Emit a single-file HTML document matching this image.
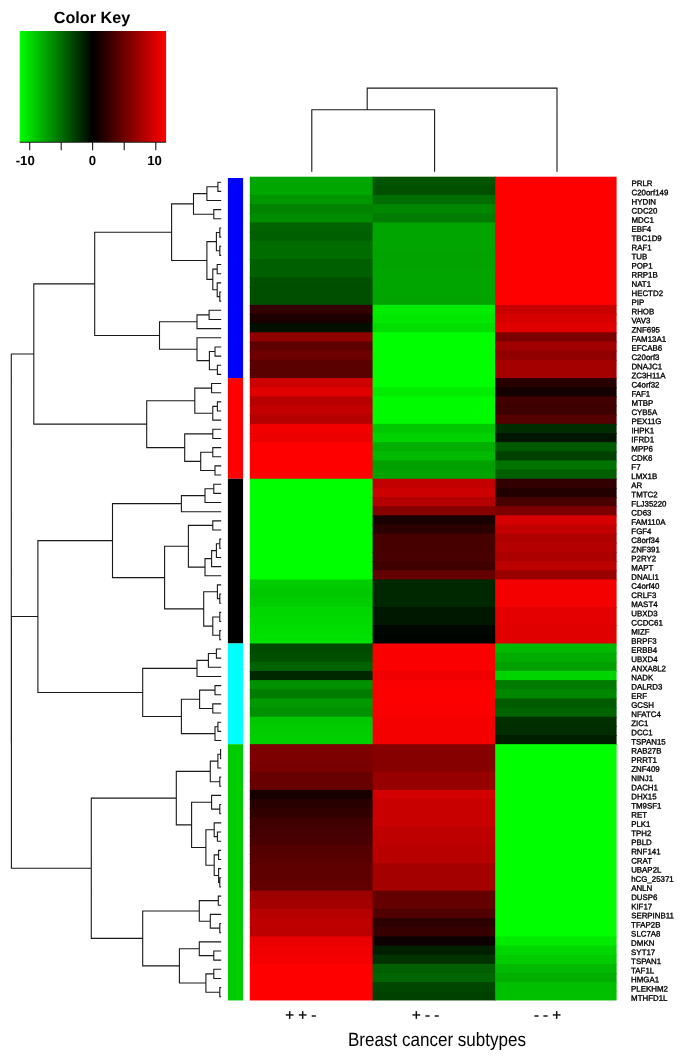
<!DOCTYPE html>
<html lang="en"><head><meta charset="utf-8"><title>Heatmap - Breast cancer subtypes</title>
<style>html,body{margin:0;padding:0;background:#fff}body{width:685px;height:1059px;overflow:hidden}svg{display:block}text{font-family:"Liberation Sans",Arial,sans-serif;fill:#000;text-rendering:geometricPrecision}.g{font-size:7.9px;stroke:#000;stroke-width:0.33px}.k{font-size:13.2px;font-weight:bold}.c{font-size:15px;stroke:#000;stroke-width:0.3px}</style></head><body>
<svg width="685" height="1059" viewBox="0 0 685 1059">
<defs><linearGradient id="ck" x1="0" x2="1" y1="0" y2="0"><stop offset="0" stop-color="#00ff00"/><stop offset="0.5" stop-color="#000000"/><stop offset="1" stop-color="#ff0000"/></linearGradient></defs>
<rect width="685" height="1059" fill="#fff"/>
<text x="92" y="22.6" text-anchor="middle" style="font-size:16.2px;font-weight:bold">Color Key</text>
<rect x="19.7" y="31" width="146.4" height="111" fill="url(#ck)"/>
<path d="M19.7 142.3H166.1M29.7 142V150.3M61.2 142V150.3M92.6 142V150.3M124.2 142V150.3M155.8 142V150.3" stroke="#1a1a1a" stroke-width="1.1" fill="none"/>
<text class="k" x="25.2" y="164.5" text-anchor="middle">-10</text>
<text class="k" x="92.5" y="164.5" text-anchor="middle">0</text>
<text class="k" x="154.5" y="164.5" text-anchor="middle">10</text>
<path d="M311.8 171.7V109.7H434.6V171.7M367.2 109.7V88.1H557V171.7" stroke="#1a1a1a" stroke-width="1.1" fill="none"/>
<g>
<rect x="249.8" y="176.70" width="123.8" height="19.31" fill="#00a600"/>
<rect x="249.8" y="195.01" width="123.8" height="10.15" fill="#009600"/>
<rect x="249.8" y="204.16" width="123.8" height="10.15" fill="#008400"/>
<rect x="249.8" y="213.31" width="123.8" height="10.15" fill="#008c00"/>
<rect x="249.8" y="222.46" width="123.8" height="10.15" fill="#006200"/>
<rect x="249.8" y="231.62" width="123.8" height="10.15" fill="#005f00"/>
<rect x="249.8" y="240.77" width="123.8" height="19.31" fill="#006c00"/>
<rect x="249.8" y="259.07" width="123.8" height="19.31" fill="#005f00"/>
<rect x="249.8" y="277.38" width="123.8" height="10.15" fill="#005000"/>
<rect x="249.8" y="286.53" width="123.8" height="19.31" fill="#004e00"/>
<rect x="249.8" y="304.84" width="123.8" height="10.15" fill="#320000"/>
<rect x="249.8" y="313.99" width="123.8" height="10.15" fill="#1c0000"/>
<rect x="249.8" y="323.14" width="123.8" height="10.15" fill="#000f00"/>
<rect x="249.8" y="332.30" width="123.8" height="10.15" fill="#910000"/>
<rect x="249.8" y="341.45" width="123.8" height="10.15" fill="#5f0000"/>
<rect x="249.8" y="350.60" width="123.8" height="10.15" fill="#6e0000"/>
<rect x="249.8" y="359.76" width="123.8" height="10.15" fill="#5a0000"/>
<rect x="249.8" y="368.91" width="123.8" height="10.15" fill="#580000"/>
<rect x="249.8" y="378.06" width="123.8" height="10.15" fill="#cd0000"/>
<rect x="249.8" y="387.21" width="123.8" height="10.15" fill="#e10000"/>
<rect x="249.8" y="396.37" width="123.8" height="10.15" fill="#b90000"/>
<rect x="249.8" y="405.52" width="123.8" height="10.15" fill="#c30000"/>
<rect x="249.8" y="414.67" width="123.8" height="10.15" fill="#b40000"/>
<rect x="249.8" y="423.83" width="123.8" height="10.15" fill="#f20000"/>
<rect x="249.8" y="432.98" width="123.8" height="10.15" fill="#ec0000"/>
<rect x="249.8" y="442.13" width="123.8" height="37.61" fill="#ff0000"/>
<rect x="249.8" y="478.74" width="123.8" height="101.68" fill="#00ff00"/>
<rect x="249.8" y="579.42" width="123.8" height="10.15" fill="#00cd00"/>
<rect x="249.8" y="588.58" width="123.8" height="10.15" fill="#00c800"/>
<rect x="249.8" y="597.73" width="123.8" height="10.15" fill="#00cd00"/>
<rect x="249.8" y="606.88" width="123.8" height="10.15" fill="#00d700"/>
<rect x="249.8" y="616.03" width="123.8" height="10.15" fill="#00da00"/>
<rect x="249.8" y="625.19" width="123.8" height="10.15" fill="#00de00"/>
<rect x="249.8" y="634.34" width="123.8" height="10.15" fill="#00e100"/>
<rect x="249.8" y="643.49" width="123.8" height="10.15" fill="#004b00"/>
<rect x="249.8" y="652.64" width="123.8" height="10.15" fill="#005000"/>
<rect x="249.8" y="661.80" width="123.8" height="10.15" fill="#006200"/>
<rect x="249.8" y="670.95" width="123.8" height="10.15" fill="#002800"/>
<rect x="249.8" y="680.10" width="123.8" height="10.15" fill="#009100"/>
<rect x="249.8" y="689.26" width="123.8" height="10.15" fill="#007d00"/>
<rect x="249.8" y="698.41" width="123.8" height="10.15" fill="#009900"/>
<rect x="249.8" y="707.56" width="123.8" height="10.15" fill="#009100"/>
<rect x="249.8" y="716.71" width="123.8" height="10.15" fill="#00c800"/>
<rect x="249.8" y="725.87" width="123.8" height="10.15" fill="#00cd00"/>
<rect x="249.8" y="735.02" width="123.8" height="10.15" fill="#00cf00"/>
<rect x="249.8" y="744.17" width="123.8" height="19.31" fill="#7d0000"/>
<rect x="249.8" y="762.48" width="123.8" height="10.15" fill="#7a0000"/>
<rect x="249.8" y="771.63" width="123.8" height="10.15" fill="#690000"/>
<rect x="249.8" y="780.78" width="123.8" height="10.15" fill="#670000"/>
<rect x="249.8" y="789.94" width="123.8" height="10.15" fill="#190000"/>
<rect x="249.8" y="799.09" width="123.8" height="10.15" fill="#280000"/>
<rect x="249.8" y="808.24" width="123.8" height="10.15" fill="#300000"/>
<rect x="249.8" y="817.39" width="123.8" height="10.15" fill="#3e0000"/>
<rect x="249.8" y="826.55" width="123.8" height="10.15" fill="#440000"/>
<rect x="249.8" y="835.70" width="123.8" height="10.15" fill="#480000"/>
<rect x="249.8" y="844.85" width="123.8" height="10.15" fill="#550000"/>
<rect x="249.8" y="854.01" width="123.8" height="10.15" fill="#580000"/>
<rect x="249.8" y="863.16" width="123.8" height="19.31" fill="#5f0000"/>
<rect x="249.8" y="881.46" width="123.8" height="10.15" fill="#620000"/>
<rect x="249.8" y="890.62" width="123.8" height="10.15" fill="#9e0000"/>
<rect x="249.8" y="899.77" width="123.8" height="10.15" fill="#a50000"/>
<rect x="249.8" y="908.92" width="123.8" height="10.15" fill="#b90000"/>
<rect x="249.8" y="918.08" width="123.8" height="10.15" fill="#be0000"/>
<rect x="249.8" y="927.23" width="123.8" height="10.15" fill="#bc0000"/>
<rect x="249.8" y="936.38" width="123.8" height="10.15" fill="#eb0000"/>
<rect x="249.8" y="945.53" width="123.8" height="10.15" fill="#f00000"/>
<rect x="249.8" y="954.69" width="123.8" height="10.15" fill="#f50000"/>
<rect x="249.8" y="963.84" width="123.8" height="36.61" fill="#ff0000"/>
<rect x="372.6" y="176.70" width="123.6" height="10.15" fill="#005500"/>
<rect x="372.6" y="185.85" width="123.6" height="10.15" fill="#005000"/>
<rect x="372.6" y="195.01" width="123.6" height="10.15" fill="#006e00"/>
<rect x="372.6" y="204.16" width="123.6" height="10.15" fill="#008700"/>
<rect x="372.6" y="213.31" width="123.6" height="10.15" fill="#007d00"/>
<rect x="372.6" y="222.46" width="123.6" height="28.46" fill="#00a500"/>
<rect x="372.6" y="249.92" width="123.6" height="19.31" fill="#00a300"/>
<rect x="372.6" y="268.23" width="123.6" height="28.46" fill="#00a500"/>
<rect x="372.6" y="295.69" width="123.6" height="10.15" fill="#00a300"/>
<rect x="372.6" y="304.84" width="123.6" height="10.15" fill="#00ec00"/>
<rect x="372.6" y="313.99" width="123.6" height="10.15" fill="#00e800"/>
<rect x="372.6" y="323.14" width="123.6" height="10.15" fill="#00de00"/>
<rect x="372.6" y="332.30" width="123.6" height="55.92" fill="#00ff00"/>
<rect x="372.6" y="387.21" width="123.6" height="10.15" fill="#00ed00"/>
<rect x="372.6" y="396.37" width="123.6" height="28.46" fill="#00fa00"/>
<rect x="372.6" y="423.83" width="123.6" height="10.15" fill="#00c800"/>
<rect x="372.6" y="432.98" width="123.6" height="10.15" fill="#00d200"/>
<rect x="372.6" y="442.13" width="123.6" height="10.15" fill="#00af00"/>
<rect x="372.6" y="451.28" width="123.6" height="10.15" fill="#00b900"/>
<rect x="372.6" y="460.44" width="123.6" height="10.15" fill="#00a000"/>
<rect x="372.6" y="469.59" width="123.6" height="10.15" fill="#00a300"/>
<rect x="372.6" y="478.74" width="123.6" height="10.15" fill="#c30000"/>
<rect x="372.6" y="487.89" width="123.6" height="10.15" fill="#cd0000"/>
<rect x="372.6" y="497.05" width="123.6" height="10.15" fill="#b40000"/>
<rect x="372.6" y="506.20" width="123.6" height="10.15" fill="#870000"/>
<rect x="372.6" y="515.35" width="123.6" height="10.15" fill="#190000"/>
<rect x="372.6" y="524.51" width="123.6" height="10.15" fill="#2d0000"/>
<rect x="372.6" y="533.66" width="123.6" height="19.31" fill="#460000"/>
<rect x="372.6" y="551.96" width="123.6" height="10.15" fill="#480000"/>
<rect x="372.6" y="561.12" width="123.6" height="10.15" fill="#410000"/>
<rect x="372.6" y="570.27" width="123.6" height="10.15" fill="#640000"/>
<rect x="372.6" y="579.42" width="123.6" height="28.46" fill="#002800"/>
<rect x="372.6" y="606.88" width="123.6" height="19.31" fill="#001700"/>
<rect x="372.6" y="625.19" width="123.6" height="10.15" fill="#000600"/>
<rect x="372.6" y="634.34" width="123.6" height="10.15" fill="#000400"/>
<rect x="372.6" y="643.49" width="123.6" height="28.46" fill="#fa0000"/>
<rect x="372.6" y="670.95" width="123.6" height="10.15" fill="#f00000"/>
<rect x="372.6" y="680.10" width="123.6" height="10.15" fill="#fa0000"/>
<rect x="372.6" y="689.26" width="123.6" height="19.31" fill="#fc0000"/>
<rect x="372.6" y="707.56" width="123.6" height="10.15" fill="#fa0000"/>
<rect x="372.6" y="716.71" width="123.6" height="28.46" fill="#f50000"/>
<rect x="372.6" y="744.17" width="123.6" height="28.46" fill="#870000"/>
<rect x="372.6" y="771.63" width="123.6" height="19.31" fill="#960000"/>
<rect x="372.6" y="789.94" width="123.6" height="10.15" fill="#d20000"/>
<rect x="372.6" y="799.09" width="123.6" height="28.46" fill="#c80000"/>
<rect x="372.6" y="826.55" width="123.6" height="19.31" fill="#be0000"/>
<rect x="372.6" y="844.85" width="123.6" height="19.31" fill="#b90000"/>
<rect x="372.6" y="863.16" width="123.6" height="28.46" fill="#a50000"/>
<rect x="372.6" y="890.62" width="123.6" height="19.31" fill="#640000"/>
<rect x="372.6" y="908.92" width="123.6" height="10.15" fill="#500000"/>
<rect x="372.6" y="918.08" width="123.6" height="10.15" fill="#2d0000"/>
<rect x="372.6" y="927.23" width="123.6" height="10.15" fill="#370000"/>
<rect x="372.6" y="936.38" width="123.6" height="10.15" fill="#0c0000"/>
<rect x="372.6" y="945.53" width="123.6" height="10.15" fill="#001e00"/>
<rect x="372.6" y="954.69" width="123.6" height="10.15" fill="#003200"/>
<rect x="372.6" y="963.84" width="123.6" height="10.15" fill="#005f00"/>
<rect x="372.6" y="972.99" width="123.6" height="10.15" fill="#006400"/>
<rect x="372.6" y="982.14" width="123.6" height="10.15" fill="#004600"/>
<rect x="372.6" y="991.30" width="123.6" height="9.15" fill="#004100"/>
<rect x="495.2" y="176.70" width="121.4" height="129.14" fill="#ff0000"/>
<rect x="495.2" y="304.84" width="121.4" height="10.15" fill="#c80000"/>
<rect x="495.2" y="313.99" width="121.4" height="10.15" fill="#d70000"/>
<rect x="495.2" y="323.14" width="121.4" height="10.15" fill="#e10000"/>
<rect x="495.2" y="332.30" width="121.4" height="10.15" fill="#7d0000"/>
<rect x="495.2" y="341.45" width="121.4" height="10.15" fill="#a00000"/>
<rect x="495.2" y="350.60" width="121.4" height="10.15" fill="#910000"/>
<rect x="495.2" y="359.76" width="121.4" height="19.31" fill="#a50000"/>
<rect x="495.2" y="378.06" width="121.4" height="10.15" fill="#280000"/>
<rect x="495.2" y="387.21" width="121.4" height="10.15" fill="#140000"/>
<rect x="495.2" y="396.37" width="121.4" height="10.15" fill="#410000"/>
<rect x="495.2" y="405.52" width="121.4" height="10.15" fill="#3c0000"/>
<rect x="495.2" y="414.67" width="121.4" height="10.15" fill="#550000"/>
<rect x="495.2" y="423.83" width="121.4" height="10.15" fill="#002d00"/>
<rect x="495.2" y="432.98" width="121.4" height="10.15" fill="#001600"/>
<rect x="495.2" y="442.13" width="121.4" height="10.15" fill="#005a00"/>
<rect x="495.2" y="451.28" width="121.4" height="10.15" fill="#004100"/>
<rect x="495.2" y="460.44" width="121.4" height="10.15" fill="#007300"/>
<rect x="495.2" y="469.59" width="121.4" height="10.15" fill="#005f00"/>
<rect x="495.2" y="478.74" width="121.4" height="10.15" fill="#320000"/>
<rect x="495.2" y="487.89" width="121.4" height="10.15" fill="#230000"/>
<rect x="495.2" y="497.05" width="121.4" height="10.15" fill="#480000"/>
<rect x="495.2" y="506.20" width="121.4" height="10.15" fill="#7d0000"/>
<rect x="495.2" y="515.35" width="121.4" height="10.15" fill="#d70000"/>
<rect x="495.2" y="524.51" width="121.4" height="10.15" fill="#c30000"/>
<rect x="495.2" y="533.66" width="121.4" height="10.15" fill="#af0000"/>
<rect x="495.2" y="542.81" width="121.4" height="10.15" fill="#b40000"/>
<rect x="495.2" y="551.96" width="121.4" height="10.15" fill="#ac0000"/>
<rect x="495.2" y="561.12" width="121.4" height="10.15" fill="#bc0000"/>
<rect x="495.2" y="570.27" width="121.4" height="10.15" fill="#9b0000"/>
<rect x="495.2" y="579.42" width="121.4" height="28.46" fill="#f50000"/>
<rect x="495.2" y="606.88" width="121.4" height="19.31" fill="#e40000"/>
<rect x="495.2" y="625.19" width="121.4" height="19.31" fill="#e10000"/>
<rect x="495.2" y="643.49" width="121.4" height="10.15" fill="#00b900"/>
<rect x="495.2" y="652.64" width="121.4" height="10.15" fill="#00ac00"/>
<rect x="495.2" y="661.80" width="121.4" height="10.15" fill="#00a000"/>
<rect x="495.2" y="670.95" width="121.4" height="10.15" fill="#00d400"/>
<rect x="495.2" y="680.10" width="121.4" height="10.15" fill="#007a00"/>
<rect x="495.2" y="689.26" width="121.4" height="10.15" fill="#008700"/>
<rect x="495.2" y="698.41" width="121.4" height="10.15" fill="#005a00"/>
<rect x="495.2" y="707.56" width="121.4" height="10.15" fill="#006400"/>
<rect x="495.2" y="716.71" width="121.4" height="10.15" fill="#002f00"/>
<rect x="495.2" y="725.87" width="121.4" height="10.15" fill="#002d00"/>
<rect x="495.2" y="735.02" width="121.4" height="10.15" fill="#001e00"/>
<rect x="495.2" y="744.17" width="121.4" height="193.21" fill="#00ff00"/>
<rect x="495.2" y="936.38" width="121.4" height="10.15" fill="#00eb00"/>
<rect x="495.2" y="945.53" width="121.4" height="10.15" fill="#00d700"/>
<rect x="495.2" y="954.69" width="121.4" height="10.15" fill="#00cd00"/>
<rect x="495.2" y="963.84" width="121.4" height="10.15" fill="#00b900"/>
<rect x="495.2" y="972.99" width="121.4" height="10.15" fill="#00af00"/>
<rect x="495.2" y="982.14" width="121.4" height="10.15" fill="#00be00"/>
<rect x="495.2" y="991.30" width="121.4" height="9.15" fill="#00c000"/>
</g>
<rect x="227.9" y="178.00" width="15.2" height="200.06" fill="#0000ff"/>
<rect x="227.9" y="378.06" width="15.2" height="100.68" fill="#ff0000"/>
<rect x="227.9" y="478.74" width="15.2" height="164.75" fill="#000000"/>
<rect x="227.9" y="643.49" width="15.2" height="100.68" fill="#00ffff"/>
<rect x="227.9" y="744.17" width="15.2" height="256.28" fill="#00cd00"/>
<path d="M221.2 182.18H217.9V191.33H221.2M217.9 186.75H206.9V200.48H221.2M221.2 209.63H213.8V218.79H221.2M206.9 193.62H193.5V214.21H213.8M221.2 227.94H219.8V237.09H221.2M221.2 246.25H219.8V255.40H221.2M219.8 232.52H216.4V250.82H219.8M221.2 264.55H217.2V273.70H221.2M221.2 292.01H219.8V301.16H221.2M221.2 282.86H217.2V296.59H219.8M217.2 269.13H212.8V289.72H217.2M216.4 241.67H206.9V279.42H212.8M193.5 203.91H171.6V260.55H206.9M221.2 310.32H209.1V319.47H221.2M209.1 314.89H197.0V328.62H221.2M221.2 346.93H215.0V356.08H221.2M221.2 365.23H217.4V374.38H221.2M215.0 351.50H209.4V369.81H217.4M221.2 337.77H197.0V360.66H209.4M197.0 321.76H159.5V349.21H197.0M171.6 232.23H94.7V335.49H159.5M221.2 383.54H211.6V392.69H221.2M221.2 401.84H217.4V411.00H221.2M217.4 406.42H212.8V420.15H221.2M211.6 388.11H194.8V413.28H212.8M221.2 429.30H212.8V438.45H221.2M221.2 447.61H212.8V456.76H221.2M221.2 465.91H215.0V475.07H221.2M212.8 452.18H200.7V470.49H215.0M212.8 433.88H184.7V461.34H200.7M194.8 400.70H146.7V447.61H184.7M94.7 283.86H33.8V424.15H146.7M221.2 484.22H213.8V493.37H221.2M213.8 488.79H205.0V502.52H221.2M205.0 495.66H181.4V511.68H221.2M221.2 520.83H212.8V529.98H221.2M221.2 539.13H219.8V548.29H221.2M219.8 543.71H216.4V557.44H221.2M216.4 550.58H211.6V566.59H221.2M211.6 558.58H205.0V575.75H221.2M212.8 525.41H188.4V567.17H205.0M221.2 594.05H219.8V603.20H221.2M221.2 584.90H217.4V598.63H219.8M221.2 612.36H219.8V621.51H221.2M221.2 630.66H219.8V639.82H221.2M219.8 616.93H212.8V635.24H219.8M217.4 591.76H203.7V626.09H212.8M188.4 546.29H164.6V608.92H203.7M181.4 503.67H112.5V577.60H164.6M221.2 648.97H216.4V658.12H221.2M216.4 653.54H208.4V667.27H221.2M208.4 660.41H197.0V676.43H221.2M221.2 685.58H215.0V694.73H221.2M221.2 703.88H212.8V713.04H221.2M215.0 690.16H199.6V708.46H212.8M221.2 722.19H217.9V731.34H221.2M217.9 726.77H215.0V740.50H221.2M199.6 699.31H181.4V733.63H215.0M197.0 668.42H142.7V716.47H181.4M112.5 540.64H37.9V692.44H142.7M221.2 749.65H220.6V758.80H221.2M220.6 754.23H217.9V767.95H221.2M221.2 777.11H219.8V786.26H221.2M217.9 761.09H210.3V781.68H219.8M221.2 804.57H219.8V813.72H221.2M221.2 795.41H211.6V809.14H219.8M221.2 832.02H217.4V841.18H221.2M221.2 822.87H214.2V836.60H217.4M221.2 850.33H218.6V859.48H221.2M221.2 877.79H219.8V886.94H221.2M221.2 868.63H218.6V882.36H219.8M218.6 854.91H214.2V875.50H218.6M214.2 829.74H205.9V865.20H214.2M211.6 802.28H191.6V847.47H205.9M210.3 771.39H176.3V824.87H191.6M221.2 896.09H218.3V905.25H221.2M221.2 923.55H219.8V932.70H221.2M221.2 914.40H210.3V928.13H219.8M218.3 900.67H199.3V921.26H210.3M221.2 951.01H213.8V960.16H221.2M221.2 941.86H199.3V955.59H213.8M221.2 969.32H213.8V978.47H221.2M221.2 987.62H219.8V996.77H221.2M213.8 973.89H205.9V992.20H219.8M199.3 948.72H179.4V983.04H205.9M199.3 910.97H142.7V965.88H179.4M176.3 798.13H91.3V938.42H142.7M37.9 616.54H11.4V868.28H91.3M33.8 354.01H11.3V742.41H11.4" stroke="#1a1a1a" stroke-width="1.1" fill="none"/>
<g class="g" transform="rotate(0.03 631 590)">
<text x="631.3" y="186.08">PRLR</text>
<text x="631.3" y="195.23">C20orf149</text>
<text x="631.3" y="204.38">HYDIN</text>
<text x="631.3" y="213.53">CDC20</text>
<text x="631.3" y="222.69">MDC1</text>
<text x="631.3" y="231.84">EBF4</text>
<text x="631.3" y="240.99">TBC1D9</text>
<text x="631.3" y="250.15">RAF1</text>
<text x="631.3" y="259.30">TUB</text>
<text x="631.3" y="268.45">POP1</text>
<text x="631.3" y="277.60">RRP1B</text>
<text x="631.3" y="286.76">NAT1</text>
<text x="631.3" y="295.91">HECTD2</text>
<text x="631.3" y="305.06">PIP</text>
<text x="631.3" y="314.22">RHOB</text>
<text x="631.3" y="323.37">VAV3</text>
<text x="631.3" y="332.52">ZNF695</text>
<text x="631.3" y="341.67">FAM13A1</text>
<text x="631.3" y="350.83">EFCAB6</text>
<text x="631.3" y="359.98">C20orf3</text>
<text x="631.3" y="369.13">DNAJC1</text>
<text x="631.3" y="378.28">ZC3H11A</text>
<text x="631.3" y="387.44">C4orf32</text>
<text x="631.3" y="396.59">FAF1</text>
<text x="631.3" y="405.74">MTBP</text>
<text x="631.3" y="414.90">CYB5A</text>
<text x="631.3" y="424.05">PEX11G</text>
<text x="631.3" y="433.20">IHPK1</text>
<text x="631.3" y="442.35">IFRD1</text>
<text x="631.3" y="451.51">MPP6</text>
<text x="631.3" y="460.66">CDK6</text>
<text x="631.3" y="469.81">F7</text>
<text x="631.3" y="478.97">LMX1B</text>
<text x="631.3" y="488.12">AR</text>
<text x="631.3" y="497.27">TMTC2</text>
<text x="631.3" y="506.42">FLJ35220</text>
<text x="631.3" y="515.58">CD63</text>
<text x="631.3" y="524.73">FAM110A</text>
<text x="631.3" y="533.88">FGF4</text>
<text x="631.3" y="543.03">C8orf34</text>
<text x="631.3" y="552.19">ZNF391</text>
<text x="631.3" y="561.34">P2RY2</text>
<text x="631.3" y="570.49">MAPT</text>
<text x="631.3" y="579.65">DNALI1</text>
<text x="631.3" y="588.80">C4orf40</text>
<text x="631.3" y="597.95">CRLF3</text>
<text x="631.3" y="607.10">MAST4</text>
<text x="631.3" y="616.26">UBXD3</text>
<text x="631.3" y="625.41">CCDC61</text>
<text x="631.3" y="634.56">MIZF</text>
<text x="631.3" y="643.72">BRPF3</text>
<text x="631.3" y="652.87">ERBB4</text>
<text x="631.3" y="662.02">UBXD4</text>
<text x="631.3" y="671.17">ANXA8L2</text>
<text x="631.3" y="680.33">NADK</text>
<text x="631.3" y="689.48">DALRD3</text>
<text x="631.3" y="698.63">ERF</text>
<text x="631.3" y="707.78">GCSH</text>
<text x="631.3" y="716.94">NFATC4</text>
<text x="631.3" y="726.09">ZIC1</text>
<text x="631.3" y="735.24">DCC1</text>
<text x="631.3" y="744.40">TSPAN15</text>
<text x="631.3" y="753.55">RAB27B</text>
<text x="631.3" y="762.70">PRRT1</text>
<text x="631.3" y="771.85">ZNF409</text>
<text x="631.3" y="781.01">NINJ1</text>
<text x="631.3" y="790.16">DACH1</text>
<text x="631.3" y="799.31">DHX15</text>
<text x="631.3" y="808.47">TM9SF1</text>
<text x="631.3" y="817.62">RET</text>
<text x="631.3" y="826.77">PLK1</text>
<text x="631.3" y="835.92">TPH2</text>
<text x="631.3" y="845.08">PBLD</text>
<text x="631.3" y="854.23">RNF141</text>
<text x="631.3" y="863.38">CRAT</text>
<text x="631.3" y="872.53">UBAP2L</text>
<text x="631.3" y="881.69">hCG_25371</text>
<text x="631.3" y="890.84">ANLN</text>
<text x="631.3" y="899.99">DUSP6</text>
<text x="631.3" y="909.15">KIF17</text>
<text x="631.3" y="918.30">SERPINB11</text>
<text x="631.3" y="927.45">TFAP2B</text>
<text x="631.3" y="936.60">SLC7A8</text>
<text x="631.3" y="945.76">DMKN</text>
<text x="631.3" y="954.91">SYT17</text>
<text x="631.3" y="964.06">TSPAN1</text>
<text x="631.3" y="973.22">TAF1L</text>
<text x="631.3" y="982.37">HMGA1</text>
<text x="631.3" y="991.52">PLEKHM2</text>
<text x="631.3" y="1000.67">MTHFD1L</text>
</g>
<text class="c" x="300.8" y="1020.2" text-anchor="middle" xml:space="preserve">+ + -</text>
<text class="c" x="425.6" y="1020.2" text-anchor="middle" xml:space="preserve">+ - -</text>
<text class="c" x="547.5" y="1020.2" text-anchor="middle" xml:space="preserve">- - +</text>
<text x="347.9" y="1045.7" textLength="178.2" lengthAdjust="spacingAndGlyphs" style="font-size:19.3px">Breast cancer subtypes</text>
</svg></body></html>
